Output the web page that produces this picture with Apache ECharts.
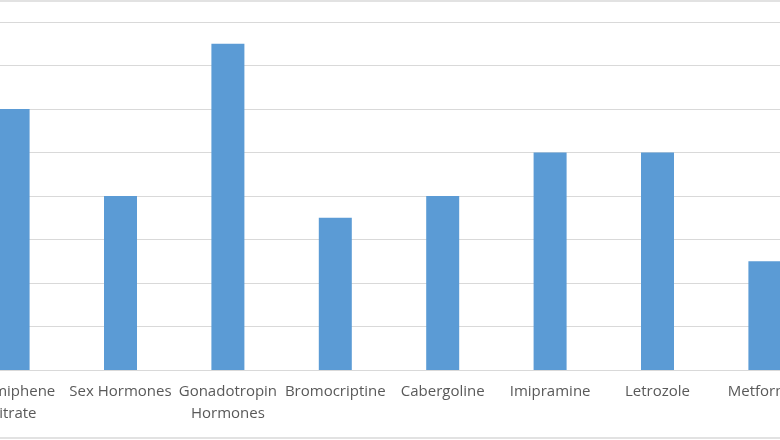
<!DOCTYPE html>
<html>
<head>
<meta charset="utf-8">
<script src="https://cdn.jsdelivr.net/npm/echarts@6/dist/echarts.min.js"></script>
<style>
  html, body { margin: 0; padding: 0; background: #fff; }
  #chart { width: 780px; height: 440px; }
</style>
</head>
<body>
<div id="chart"></div>
<script>
// drug categories (first and last are cut off by the frame in the original)
const categories = ['Clomiphene\nCitrate', 'Sex Hormones', 'Gonadotropin\nHormones', 'Bromocriptine',
  'Cabergoline', 'Imipramine', 'Letrozole', 'Metformin']
const values = [6, 4, 7.5, 3.5, 4, 5, 5, 2.5]
const yMax = 8

const chart = echarts.init(document.getElementById('chart'))

chart.setOption({
  animation: false,
  grid: {
    left: -40.6, right: -38.6, top: 22, bottom: 70,
    containLabel: false,
    outerBoundsMode: 'none'
  },
  xAxis: {
    type: 'category',
    data: categories,
    axisTick: { show: false },
    axisLine: { lineStyle: { color: '#d9d9d9', width: 1 } },
    axisLabel: {
      interval: 0,
      margin: 11,
      color: '#595959',
      fontSize: 15,
      lineHeight: 22,
      fontFamily: 'Open Sans',
      hideOverlap: false
    }
  },
  yAxis: {
    type: 'value',
    min: 0,
    max: yMax,
    interval: 1,
    axisLabel: { show: false },
    axisLine: { show: false },
    splitLine: { lineStyle: { color: '#d9d9d9', width: 1 } }
  },
  series: [{
    type: 'bar',
    data: values,
    barWidth: 33,
    itemStyle: { color: '#5b9bd5' }
  }],
  // outer chart frame, top and bottom edges
  graphic: [
    { type: 'line', shape: { x1: 0, y1: 1, x2: 780, y2: 1 }, style: { stroke: '#d9d9d9', lineWidth: 1.5 } },
    { type: 'line', shape: { x1: 0, y1: 438, x2: 780, y2: 438 }, style: { stroke: '#d9d9d9', lineWidth: 1.5 } }
  ]
})
</script>
</body>
</html>
